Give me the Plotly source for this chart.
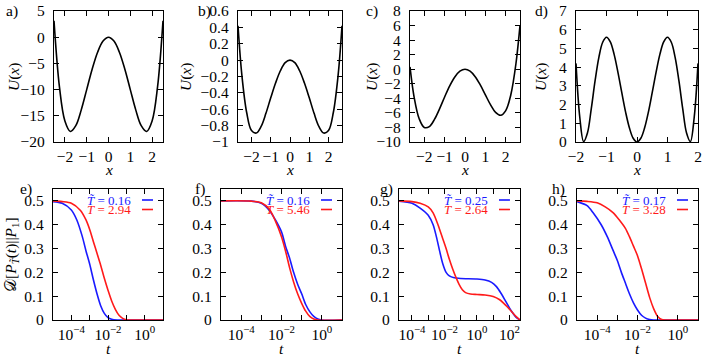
import numpy as np
import plotly.graph_objects as go

FONT = "Liberation Serif, Times New Roman, DejaVu Serif, serif"
FS = 15.5
FS_KEY = 13
C_BLUE = "#1a1aff"
C_RED = "#ff1a1a"
W, H = 706, 357

# ---------- top row: potentials U(x) ----------
x_a = [-2.5, -2.25, -2.0, -1.75, -1.5, -1.25, -1.0, -0.75, -0.5, -0.25, 0.0,
       0.25, 0.5, 0.75, 1.0, 1.25, 1.5, 1.75, 2.0, 2.25, 2.5]
u_a = [3.13, -9.49, -16.0, -17.99, -16.88, -13.87, -10.0, -6.12, -2.88, -0.74, 0.0,
       -0.74, -2.88, -6.12, -10.0, -13.87, -16.88, -17.99, -16.0, -9.49, 3.13]

x_b = [-2.7, -2.5, -2.25, -2.0, -1.75, -1.5, -1.25, -1.0, -0.75, -0.5, -0.25, 0.0,
       0.25, 0.5, 0.75, 1.0, 1.25, 1.5, 1.75, 2.0, 2.25, 2.5, 2.7]
u_b = [0.42, -0.18, -0.64, -0.86, -0.89, -0.81, -0.65, -0.46, -0.28, -0.13, -0.03, 0.0,
       -0.03, -0.13, -0.28, -0.46, -0.65, -0.81, -0.89, -0.86, -0.64, -0.18, 0.42]

x_c = [-2.7, -2.5, -2.25, -2.0, -1.75, -1.5, -1.25, -1.0, -0.75, -0.5, -0.25, 0.0,
       0.25, 0.5, 0.75, 1.0, 1.25, 1.5, 1.75, 2.0, 2.25, 2.5, 2.7]
u_c = [0.32, -3.79, -6.80, -8.00, -7.88, -6.90, -5.44, -3.81, -2.28, -1.06, -0.27, 0.0,
       -0.27, -1.02, -2.16, -3.52, -4.87, -5.93, -6.33, -5.68, -3.50, 0.75, 6.02]

x_d = [-2.0, -1.875, -1.75, -1.625, -1.5, -1.375, -1.25, -1.125, -1.0, -0.875, -0.75,
       -0.625, -0.5, -0.375, -0.25, -0.125, 0.0, 0.125, 0.25, 0.375, 0.5, 0.625,
       0.75, 0.875, 1.0, 1.125, 1.25, 1.375, 1.5, 1.625, 1.75, 1.875, 2.0]
u_d = [4.2, 1.31, 0.02, 0.48, 1.77, 3.26, 4.52, 5.33, 5.6, 5.35, 4.68,
       3.72, 2.65, 1.61, 0.76, 0.2, 0.0, 0.2, 0.76, 1.61, 2.65, 3.72,
       4.68, 5.35, 5.6, 5.33, 4.52, 3.26, 1.77, 0.48, 0.02, 1.31, 4.2]

# ---------- bottom row: divergence vs log10(t) ----------
lt_e_b = [-5, -4.5, -4.0, -3.7, -3.4, -3.2, -3.0, -2.8, -2.6, -2.4, -2.2, -2.0, -1.8, -1.5, -1.0, 1.0]
d_e_b = [0.497, 0.49, 0.462, 0.42, 0.35, 0.29, 0.235, 0.17, 0.11, 0.06, 0.028, 0.01, 0.003, 0.0, 0.0, 0.0]
lt_e_r = [-5, -4.5, -4.0, -3.5, -3.2, -3.0, -2.8, -2.6, -2.4, -2.2, -2.0, -1.8, -1.6, -1.4, -1.2, -1.0, -0.7, 1.0]
d_e_r = [0.5, 0.497, 0.49, 0.46, 0.42, 0.38, 0.33, 0.28, 0.23, 0.175, 0.125, 0.08, 0.045, 0.02, 0.007, 0.001, 0.0, 0.0]

lt_f_b = [-5, -3.5, -3.0, -2.6, -2.3, -2.0, -1.8, -1.6, -1.4, -1.2, -1.0, -0.8, -0.6, -0.4, -0.2, 0.0, 1.0]
d_f_b = [0.5, 0.499, 0.49, 0.46, 0.42, 0.37, 0.31, 0.26, 0.2, 0.15, 0.11, 0.065, 0.035, 0.015, 0.004, 0.0, 0.0]
lt_f_r = [-5, -3.5, -3.0, -2.6, -2.3, -2.0, -1.8, -1.6, -1.4, -1.2, -1.0, -0.8, -0.6, -0.4, -0.2, 1.0]
d_f_r = [0.5, 0.499, 0.492, 0.465, 0.415, 0.35, 0.29, 0.22, 0.16, 0.11, 0.07, 0.037, 0.015, 0.004, 0.0, 0.0]

lt_g_b = [-4.8, -4.0, -3.5, -3.0, -2.7, -2.5, -2.3, -2.1, -1.9, -1.7, -1.4, -1.0, 0.0, 0.5, 0.9, 1.2, 1.5, 1.8, 2.1, 2.4, 2.65]
d_g_b = [0.499, 0.49, 0.47, 0.44, 0.4, 0.35, 0.29, 0.235, 0.2, 0.185, 0.177, 0.174, 0.172, 0.168, 0.158, 0.14, 0.11, 0.075, 0.04, 0.012, 0.0]
lt_g_r = [-4.8, -4.0, -3.5, -3.0, -2.7, -2.4, -2.1, -1.9, -1.7, -1.5, -1.3, -1.1, -0.9, -0.7, -0.4, 0.0, 0.5, 1.0, 1.4, 1.8, 2.1, 2.4, 2.65]
d_g_r = [0.5, 0.497, 0.49, 0.475, 0.45, 0.4, 0.34, 0.3, 0.255, 0.215, 0.18, 0.15, 0.127, 0.115, 0.109, 0.107, 0.105, 0.099, 0.085, 0.06, 0.038, 0.015, 0.0]

lt_h_b = [-5, -4.5, -4.2, -3.8, -3.5, -3.2, -3.0, -2.8, -2.6, -2.4, -2.2, -2.0, -1.8, -1.6, -1.4, -1.2, 1.0]
d_h_b = [0.497, 0.48, 0.45, 0.4, 0.35, 0.29, 0.25, 0.2, 0.155, 0.11, 0.072, 0.042, 0.02, 0.008, 0.002, 0.0, 0.0]
lt_h_r = [-5, -4.5, -4.0, -3.6, -3.2, -2.9, -2.6, -2.4, -2.2, -2.0, -1.8, -1.6, -1.4, -1.2, -1.0, -0.8, -0.6, 1.0]
d_h_r = [0.5, 0.498, 0.492, 0.475, 0.45, 0.42, 0.385, 0.35, 0.31, 0.27, 0.215, 0.155, 0.095, 0.048, 0.015, 0.002, 0.0, 0.0]

legend_vals = {
    "e": ("0.16", "2.94"),
    "f": ("0.16", "5.46"),
    "g": ("0.25", "2.64"),
    "h": ("0.17", "3.28"),
}

# panel boxes in pixels: left, right, top, bottom
BOX = {
    "a": (54, 163, 11, 142), "b": (238, 342, 11, 142),
    "c": (410, 520, 11, 142), "d": (576, 698, 11, 142),
    "e": (53, 163, 189, 320), "f": (221, 342, 189, 320),
    "g": (399, 520, 189, 320), "h": (577, 698, 189, 320),
}


def px(x):
    return x / W


def py(y):
    return 1 - y / H


def axis_base(**kw):
    d = dict(
        showline=True, linecolor="black", linewidth=1.4, mirror="ticks",
        ticks="inside", ticklen=5, tickwidth=1, tickcolor="black",
        showgrid=False, zeroline=False, automargin=False,
        tickfont=dict(family=FONT, size=FS, color="black"),
    )
    d.update(kw)
    return d


def text_ann(text, x, y, xanchor="center", size=FS, color="black", **kw):
    return dict(text=text, x=px(x), y=py(y), xref="paper", yref="paper",
                xanchor=xanchor, yanchor="middle", showarrow=False,
                font=dict(family=FONT, size=size, color=color), **kw)


fig = go.Figure()
layout = {}
annotations = []
shapes = []

top = [
    ("a", x_a, u_a, [-2.5, 2.5], [-20, 5], 5),
    ("b", x_b, u_b, [-2.7, 2.7], [-1, 0.6], 0.2),
    ("c", x_c, u_c, [-2.7, 2.7], [-10, 8], 2),
    ("d", x_d, u_d, [-2, 2], [0, 7], 1),
]
bottom = [
    ("e", (lt_e_b, d_e_b), (lt_e_r, d_e_r), [-5, 1]),
    ("f", (lt_f_b, d_f_b), (lt_f_r, d_f_r), [-5, 1]),
    ("g", (lt_g_b, d_g_b), (lt_g_r, d_g_r), [-4.8, 2.65]),
    ("h", (lt_h_b, d_h_b), (lt_h_r, d_h_r), [-5, 1]),
]

top_lab_x = {"a": 4, "b": 196, "c": 364, "d": 533}
top_ylab_x = {"a": 14, "b": 186, "c": 372, "d": 541}

n = 0
for key, xs, us, xr, yr, dy in top:
    n += 1
    sfx = "" if n == 1 else str(n)
    l, r, t, b = BOX[key]
    layout["xaxis" + sfx] = axis_base(domain=[px(l), px(r)], range=xr,
                                      tickvals=[-2, -1, 0, 1, 2], anchor="y" + sfx)
    layout["yaxis" + sfx] = axis_base(domain=[py(b), py(t)], range=yr, dtick=dy,
                                      tick0=0, anchor="x" + sfx, ticklabelstandoff=5)
    fig.add_trace(go.Scatter(
        x=xs, y=us, mode="lines", xaxis="x" + sfx, yaxis="y" + sfx,
        line=dict(color="black", width=1.6, shape="spline", smoothing=1.0),
        showlegend=False, hoverinfo="skip",
    ))
    annotations.append(text_ann(key + ")", top_lab_x[key], 11, xanchor="left"))
    annotations.append(text_ann("<i>U</i>(<i>x</i>)", top_ylab_x[key], 77,
                                textangle=-90))
    annotations.append(text_ann("<i>x</i>", (l + r) / 2, 169))

log_ticks = {"e": [-4, -2, 0], "f": [-4, -2, 0], "g": [-4, -2, 0, 2], "h": [-4, -2, 0]}
minor_ticks = {"e": [-5, -3, -1, 1], "f": [-5, -3, -1, 1], "g": [-3, -1, 1], "h": [-5, -3, -1, 1]}
bot_lab_x = {"e": 18, "f": 193, "g": 378, "h": 550}

for key, blue, red, xr in bottom:
    n += 1
    sfx = str(n)
    l, r, t, b = BOX[key]
    tv = log_ticks[key]
    layout["xaxis" + sfx] = axis_base(
        domain=[px(l), px(r)], type="log", range=xr,
        tickvals=[10.0 ** v for v in tv],
        ticktext=["10<sup>%s</sup>" % (str(v).replace("-", "−")) for v in tv],
        minor=dict(ticks="inside", ticklen=5, tickcolor="black",
                   tickvals=[10.0 ** v for v in minor_ticks[key]]),
        anchor="y" + sfx,
    )
    layout["yaxis" + sfx] = axis_base(domain=[py(b), py(t)], range=[0, 0.55], dtick=0.1,
                                      tick0=0, tickformat=".1~f", anchor="x" + sfx,
                                      ticklabelstandoff=5)
    for (lt, dv), col in ((blue, C_BLUE), (red, C_RED)):
        fig.add_trace(go.Scatter(
            x=np.power(10.0, lt), y=dv, mode="lines", xaxis="x" + sfx, yaxis="y" + sfx,
            line=dict(color=col, width=1.6, shape="spline", smoothing=0.8),
            showlegend=False, hoverinfo="skip",
        ))
    annotations.append(text_ann(key + ")", bot_lab_x[key], 189, xanchor="left"))
    annotations.append(text_ann("<i>t</i>", (l + r) / 2, 348))
    vb, vr = legend_vals[key]
    for row, (txt, col) in enumerate((("<i>T̃</i> = " + vb, C_BLUE),
                                      ("<i>T</i> = " + vr, C_RED))):
        yy = 200 + row * 9.5
        annotations.append(text_ann(txt, r - 30, yy, xanchor="right", size=FS_KEY,
                                    color=col))
        shapes.append(dict(type="line", xref="paper", yref="paper",
                           x0=px(r - 21), x1=px(r - 10), y0=py(yy), y1=py(yy),
                           line=dict(color=col, width=1.6)))

annotations.append(text_ann(
    "𝒟[<i>P</i><sub><i>T̃</i></sub>(<i>t</i>)||<i>P</i><sub>1</sub>]",
    11, 255, textangle=-90))

fig.update_layout(
    **layout,
    width=W, height=H,
    margin=dict(l=0, r=0, t=0, b=0, autoexpand=False),
    paper_bgcolor="white", plot_bgcolor="white",
    annotations=annotations, shapes=shapes,
    font=dict(family=FONT, size=FS, color="black"),
)

fig.write_html(
    "out.html",
    config={"displayModeBar": False},
    post_script="document.body.style.margin='0px';document.body.style.overflow='hidden';",
)
